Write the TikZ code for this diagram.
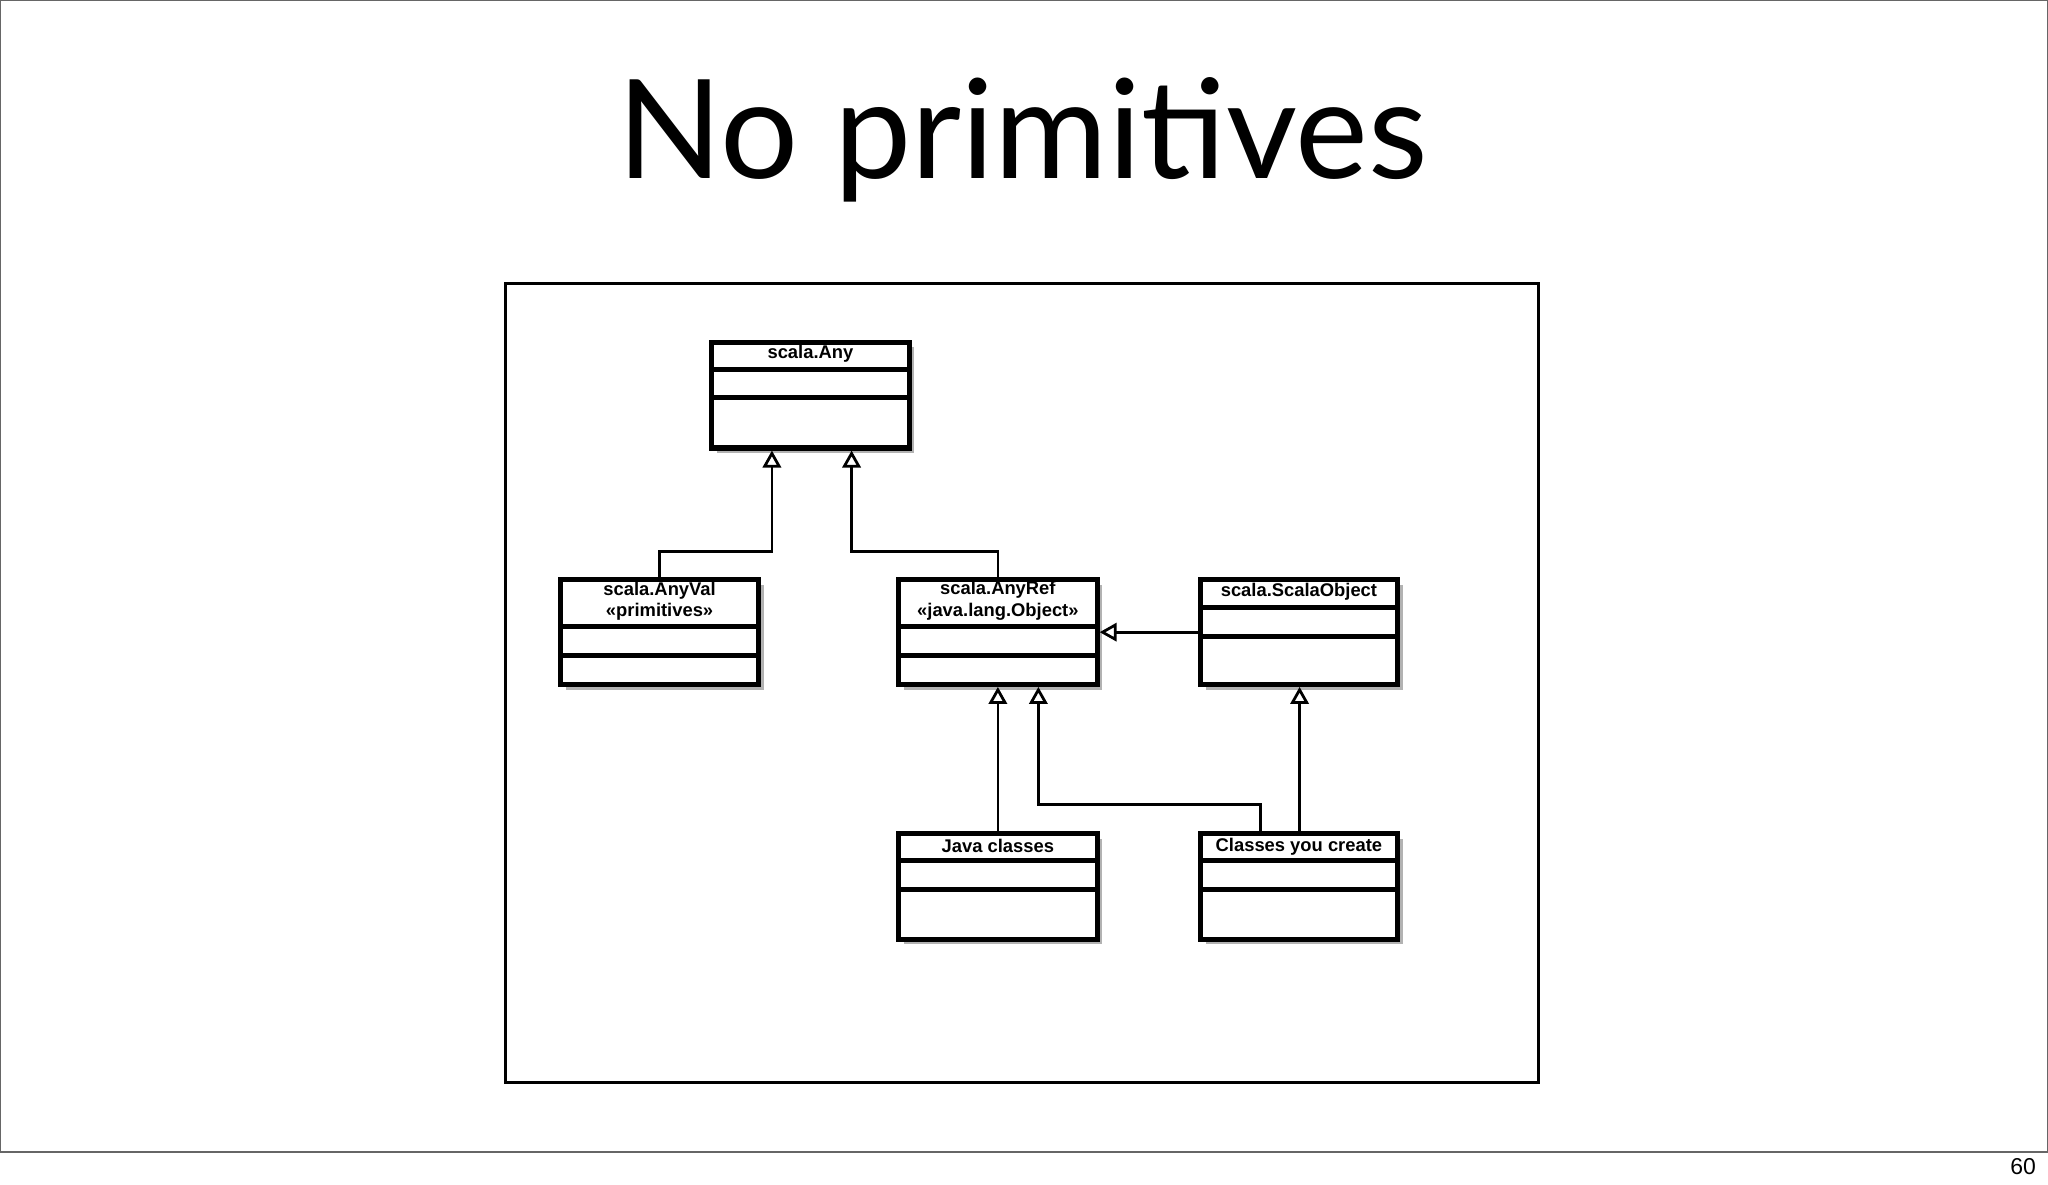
\documentclass[tikz,border=0pt]{standalone}
\usepackage{fontspec}
\setmainfont{Liberation Sans}
\newfontfamily\titlefont{Lato}
\usetikzlibrary{arrows.meta}
\tikzset{
  umlbox/.style={draw,line width=1.1pt,fill=white,inner sep=0pt},
  shadowbox/.style={fill=black!30},
  inh/.style={draw,line width=0.6pt,-{Triangle[open,length=0.13cm,width=0.14cm]}},
  lbl/.style={font=\bfseries\fontsize{4}{4.6}\selectfont,align=center,inner sep=0pt}
}
% #1 name, #2 l, #3 t, #4 r, #5 b, #6 line1, #7 line2, #8 text, #9 text y
\newcommand{\mybox}[9]{
  \fill[shadowbox] (#2+4,-#3-4) rectangle (#4+4,-#5-4);
  \node[umlbox,minimum width={(#4-#2)*0.01cm},minimum height={(#5-#3)*0.01cm}] (#1) at ({(#2+#4)/2},{-(#3+#5)/2}) {};
  \draw[line width=1.1pt] (#2,-#6) -- (#4,-#6) (#2,-#7) -- (#4,-#7);
  \node[lbl] (#1t) at ({(#2+#4)/2},-#9) {#8};
}
\begin{document}
\begin{tikzpicture}[x=0.01cm,y=0.01cm]
\useasboundingbox (0,0) rectangle (1568,-906.6);
\fill[white] (0,0) rectangle (1568,-906.6);
\draw[line width=0.5pt,black!60] (0,0) rectangle (1568,-882);
\node[font=\fontsize{5}{6}\selectfont] (pg) at (1549,-893) {60};
\node[font=\titlefont\fontsize{30}{34}\selectfont] (title) at (783,-107) {No primitives};
\draw[line width=0.6pt] (387,-217) rectangle (1178,-829);
\mybox{any}{545}{262}{696}{343}{283}{304}{scala.Any}{271}
\mybox{anyval}{429}{444}{581}{524}{480}{502}{scala.AnyVal\\\textless\textless primitives\textgreater\textgreater}{460}
\mybox{anyref}{688}{444}{840}{524}{480}{502}{scala.AnyRef\\\textless\textless java.lang.Object\textgreater\textgreater}{460}
\mybox{so}{919}{444}{1070}{524}{465}{487}{scala.ScalaObject}{453}
\mybox{java}{688}{638}{840}{719}{659}{681}{Java classes}{648}
\mybox{yours}{919}{638}{1070}{719}{659}{681}{Classes you create}{648}
\draw[inh] (anyval.north) |- (591,-422) -- (any.south -| 591,0);
\draw[inh] (anyref.north) |- (652,-422) -- (any.south -| 652,0);
\draw[inh] (so.west) -- (anyref.east |- so.west);
\draw[inh] (java.north) -- (anyref.south);
\draw[inh] (yours.north -| 965,0) |- (795,-616) -- (anyref.south -| 795,0);
\draw[inh] (yours.north -| 995,0) -- (so.south -| 995,0);
\end{tikzpicture}
\end{document}
